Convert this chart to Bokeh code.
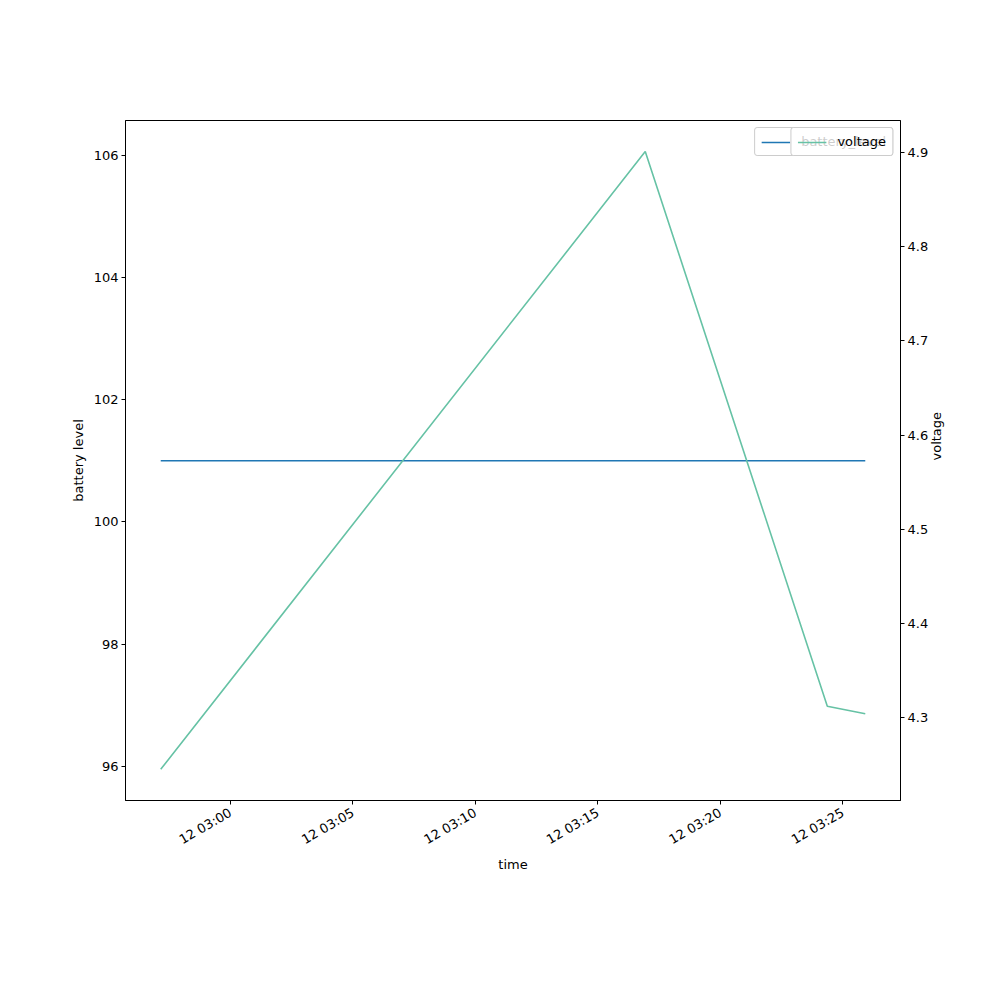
import pandas as pd
from bokeh.plotting import figure
from bokeh.models import (Range1d, LinearAxis, Legend, LegendItem, DatetimeTickFormatter,
                          FixedTicker)
from bokeh.embed import file_html
from bokeh.resources import INLINE
import math

times = ["2023-06-12 02:57:09", "2023-06-12 03:16:56", "2023-06-12 03:24:22", "2023-06-12 03:25:55"]
battery_level = [101, 101, 101, 101]
voltage = [4.245, 4.901, 4.312, 4.304]
x_tick_times = ["2023-06-12 03:00", "2023-06-12 03:05", "2023-06-12 03:10",
                "2023-06-12 03:15", "2023-06-12 03:20", "2023-06-12 03:25"]
left_ticks = [96, 98, 100, 102, 104, 106]
right_ticks = [4.3, 4.4, 4.5, 4.6, 4.7, 4.8, 4.9]

t = pd.to_datetime(times)
t_ms = [x.value / 1e6 for x in t]
xt_ms = [pd.Timestamp(x).value / 1e6 for x in x_tick_times]

span = t_ms[-1] - t_ms[0]
x0 = t_ms[0] - 0.05 * span
x1 = t_ms[-1] + 0.05 * span

W, H = 984, 984
p = figure(width=W, height=H, output_backend="svg", toolbar_location=None,
           x_axis_type="datetime", x_range=Range1d(x0, x1), y_range=Range1d(95.44, 106.57),
           min_border_left=125, min_border_right=84, min_border_top=120, min_border_bottom=184)
p.grid.visible = False
p.outline_line_color = "black"
p.outline_line_width = 1
p.background_fill_color = "white"
p.border_fill_color = "white"

p.extra_y_ranges = {"v": Range1d(4.2119, 4.934)}

FONT = "DejaVu Sans"

def style_axis(ax):
    ax.major_label_text_font = FONT
    ax.major_label_text_font_size = "13px"
    ax.major_label_text_color = "black"
    ax.axis_label_text_font = FONT
    ax.axis_label_text_font_size = "13px"
    ax.axis_label_text_font_style = "normal"
    ax.axis_label_text_color = "black"
    ax.major_tick_out = 4
    ax.major_tick_in = 0
    ax.minor_tick_out = 0
    ax.minor_tick_in = 0
    ax.axis_line_color = "black"
    ax.major_tick_line_color = "black"
    ax.major_label_standoff = 3

fmt = "%d %H:%M"
xa = p.xaxis[0]
style_axis(xa)
xa.axis_label = "time"
xa.ticker = FixedTicker(ticks=xt_ms)
xa.formatter = DatetimeTickFormatter(minutes=fmt, hourmin=fmt, hours=fmt, minsec=fmt,
                                     seconds=fmt, days=fmt, milliseconds=fmt,
                                     microseconds=fmt, months=fmt, years=fmt)
xa.major_label_orientation = math.radians(30)
xa.major_label_standoff = 7
xa.axis_label_standoff = 0

ya = p.yaxis[0]
style_axis(ya)
ya.axis_label = "battery level"
ya.ticker = FixedTicker(ticks=left_ticks)

ra = LinearAxis(y_range_name="v", axis_label="voltage")
style_axis(ra)
ra.ticker = FixedTicker(ticks=right_ticks)
ra.axis_label_orientation = math.pi / 2
p.add_layout(ra, "right")

r1 = p.line(t_ms, battery_level, line_color="#1f77b4", line_width=1.6)
r2 = p.line(t_ms, voltage, line_color="#66c2a5", line_width=1.6, y_range_name="v")

def mk_legend(label, r):
    lg = Legend(items=[LegendItem(label=label, renderers=[r])], location="top_right")
    lg.label_text_font = FONT
    lg.label_text_font_size = "13px"
    lg.label_text_color = "black"
    lg.background_fill_alpha = 0.8
    lg.border_line_color = "#cccccc"
    lg.border_line_alpha = 1
    lg.border_radius = 3
    lg.margin = 7
    lg.padding = 6
    lg.spacing = 0
    lg.glyph_width = 29
    lg.glyph_height = 14
    lg.label_standoff = 11
    lg.label_height = 14
    return lg

p.add_layout(mk_legend("battery_level", r1), "center")
p.add_layout(mk_legend("voltage", r2), "center")

open("out.html", "w").write(file_html(p, INLINE))
